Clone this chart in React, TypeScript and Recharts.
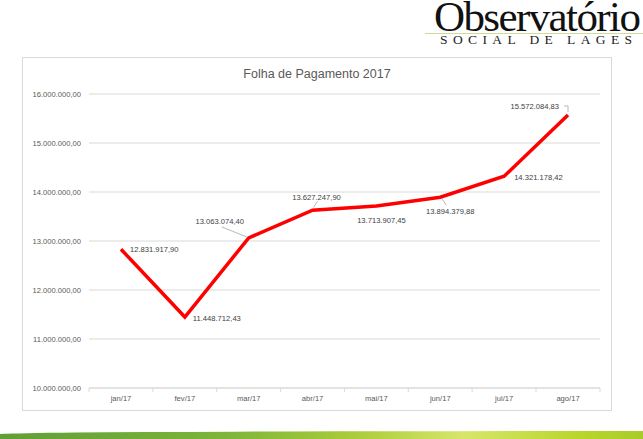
import React from "react";
import {
  CartesianGrid,
  LabelList,
  Line,
  LineChart,
  XAxis,
  YAxis,
} from "recharts";

const months = ["jan/17", "fev/17", "mar/17", "abr/17", "mai/17", "jun/17", "jul/17", "ago/17"];
const payroll = [
  12831917.9, 11448712.43, 13063074.4, 13627247.9, 13713907.45, 13894379.88, 14321178.42,
  15572084.83,
];
const yTicks = [10000000, 11000000, 12000000, 13000000, 14000000, 15000000, 16000000];

const data = months.map((m, i) => ({ month: m, value: payroll[i] }));

// pt-BR number format: 12.831.917,90
function fmt(v: number) {
  const [int, dec] = v.toFixed(2).split(".");
  return int.replace(/\B(?=(\d{3})+(?!\d))/g, ".") + "," + dec;
}

// where each data label sits relative to its point (Excel-ish placement)
const placement = [
  { dx: 9, dy: 0, anchor: "start" },
  { dx: 8, dy: 1, anchor: "start" },
  { dx: -29, dy: -17, anchor: "middle", leader: [[-27, -11], [-2, -1]] },
  { dx: 4, dy: -13, anchor: "middle", leader: [[5, -9], [1, -3]] },
  { dx: 5, dy: 14, anchor: "middle" },
  { dx: 10, dy: 14, anchor: "middle", leader: [[2, 2], [6, 8]] },
  { dx: 10, dy: 1, anchor: "start" },
  { dx: -9, dy: -9, anchor: "end", leader: [[-4, -9], [0, -9], [0, -3]] },
];

const ValueLabel = (props: any) => {
  const { x, y, value, index } = props;
  const p = placement[index];
  return (
    <g>
      {p.leader && (
        <polyline
          points={p.leader.map((pt: number[]) => `${x + pt[0]},${y + pt[1]}`).join(" ")}
          fill="none"
          stroke="#a6a6a6"
          strokeWidth={0.8}
        />
      )}
      <text
        x={x + p.dx}
        y={y + p.dy}
        dy="0.35em"
        textAnchor={p.anchor}
        fontSize={7.6}
        fontFamily="Liberation Sans"
        fill="#404040"
      >
        {fmt(value)}
      </text>
    </g>
  );
};

const MonthTick = (props: any) => {
  const { x, y, payload, index } = props;
  const half = 32;
  const axisY = y - 8;
  return (
    <g>
      <line x1={x - half} x2={x - half} y1={axisY} y2={axisY + 4} stroke="#d9d9d9" />
      {index === months.length - 1 && (
        <line x1={x + half} x2={x + half} y1={axisY} y2={axisY + 4} stroke="#d9d9d9" />
      )}
      <text
        x={x}
        y={y}
        dy="0.71em"
        textAnchor="middle"
        fontSize={7.6}
        fontFamily="Liberation Sans"
        fill="#595959"
      >
        {payload.value}
      </text>
    </g>
  );
};

function App() {
  return (
    <div
      style={{
        position: "absolute",
        left: 0,
        top: 0,
        width: 643,
        height: 439,
        background: "#fff",
        overflow: "hidden",
      }}
    >
      {/* logo */}
      <div
        style={{
          position: "absolute",
          left: 434,
          top: 0,
          fontFamily: "Liberation Serif",
          fontSize: 43,
          lineHeight: "33px",
          letterSpacing: -1.6,
          color: "#111",
          whiteSpace: "nowrap",
        }}
      >
        Observatório
      </div>
      <div
        style={{
          position: "absolute",
          left: 425,
          top: 33,
          width: 218,
          height: 1,
          background: "#cfdc98",
        }}
      />
      <div
        style={{
          position: "absolute",
          left: 440,
          top: 34,
          fontFamily: "Liberation Serif",
          fontSize: 13.5,
          lineHeight: "12px",
          letterSpacing: 5.4,
          color: "#222",
          whiteSpace: "nowrap",
        }}
      >
        SOCIAL DE LAGES
      </div>

      {/* chart frame */}
      <div
        style={{
          position: "absolute",
          left: 22,
          top: 57,
          width: 590,
          height: 354,
          border: "1px solid #d9d9d9",
          boxSizing: "border-box",
        }}
      />
      <div
        style={{
          position: "absolute",
          left: 22,
          top: 66,
          width: 590,
          textAlign: "center",
          fontFamily: "Liberation Sans",
          fontSize: 12.5,
          color: "#595959",
          lineHeight: "16px",
        }}
      >
        Folha de Pagamento 2017
      </div>
      <div style={{ position: "absolute", left: 22, top: 57 }}>
        <LineChart
          width={590}
          height={354}
          data={data}
          margin={{ top: 37, right: 12, left: 0, bottom: 0 }}
        >
          <CartesianGrid vertical={false} stroke="#d9d9d9" />
          <XAxis
            dataKey="month"
            height={23}
            stroke="#d9d9d9"
            tickLine={false}
            tick={<MonthTick />}
            interval={0}
            padding={{ left: 32, right: 32 }}
          />
          <YAxis
            width={67}
            domain={[10000000, 16000000]}
            ticks={yTicks}
            axisLine={false}
            tickLine={false}
            tickFormatter={(v: number) => fmt(v)}
            tick={{ fontSize: 7.6, fontFamily: "Liberation Sans", fill: "#595959" }}
          />
          <Line
            type="linear"
            dataKey="value"
            stroke="#ff0000"
            strokeWidth={3.5}
            dot={false}
            isAnimationActive={false}
          >
            <LabelList dataKey="value" content={<ValueLabel />} />
          </Line>
        </LineChart>
      </div>

      {/* green band at the bottom */}
      <div
        style={{
          position: "absolute",
          left: 0,
          top: 431,
          width: 643,
          height: 8,
          borderTopLeftRadius: "100% 3px",
          background:
            "linear-gradient(90deg, #5f9f36 0%, #7db53a 35%, #a9cc3a 55%, #d7e66a 72%, #b9d62c 90%, #a8cc2a 100%)",
        }}
      />
    </div>
  );
}

export default App;
